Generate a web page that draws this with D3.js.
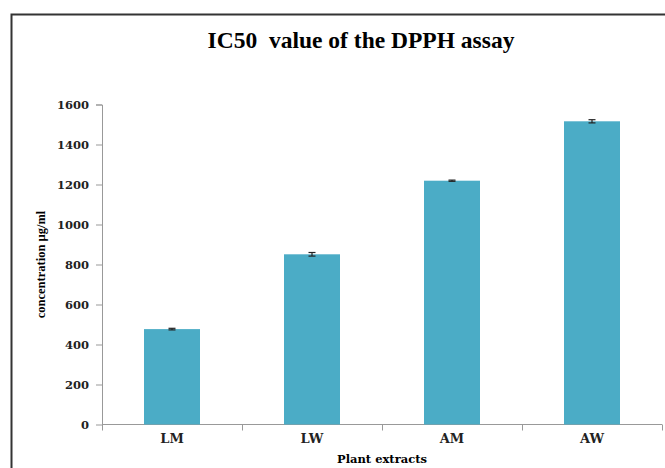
<!DOCTYPE html>
<html>
<head>
<meta charset="utf-8">
<script src="https://cdn.jsdelivr.net/npm/d3@7"></script>
<style>
  body { margin: 0; background: #fff; }
  text { font-family: "Liberation Serif", "DejaVu Serif", serif; font-weight: bold; }
  .wide { font-family: "DejaVu Serif", serif; }
</style>
</head>
<body>
<svg width="665" height="468"></svg>
<script>
// data
var categories = ["LM", "LW", "AM", "AW"];
var values = [477, 851, 1219, 1516];
var errors = [4, 9, 3, 8];
var yTicks = [0, 200, 400, 600, 800, 1000, 1200, 1400, 1600];

var svg = d3.select("svg"),
    margin = {top: 104.5, right: 3, bottom: 43.5, left: 102},
    width = +svg.attr("width") - margin.left - margin.right,
    height = +svg.attr("height") - margin.top - margin.bottom;

// outer frame (only top and left visible, the rest is cut off)
svg.append("path")
    .attr("d", "M11.5,468 V14.5 H665")
    .attr("fill", "none")
    .attr("stroke", "#333")
    .attr("stroke-width", 2);

// titel staat gecentreerd op het hele kader, niet op het plotgebied
svg.append("text")
    .attr("x", 361)
    .attr("y", 48)
    .attr("text-anchor", "middle")
    .attr("font-size", "23.5px")
    .style("white-space", "pre")
    .text("IC50  value of the DPPH assay");

var x = d3.scaleBand().domain(categories).range([0, width]).paddingInner(0.6).paddingOuter(0.3),
    y = d3.scaleLinear().domain([0, 1600]).range([height, 0]);

var g = svg.append("g")
    .attr("transform", "translate(" + margin.left + "," + margin.top + ")");

// y as
var yAxis = g.append("g")
    .call(d3.axisLeft(y).tickValues(yTicks).tickFormat(d3.format("d")).tickSize(6).tickPadding(7));
yAxis.selectAll("text").attr("class", "wide").attr("font-size", "11.5px").attr("fill", "#222");
yAxis.selectAll("line, path").attr("stroke", "#999");
yAxis.select(".domain").attr("d", "M-6,0.5H0.5V" + height);

// x as: ticks op de grenzen van de categorieen
var band = width / categories.length;
var xAxis = g.append("g").attr("transform", "translate(0," + height + ")");
xAxis.append("line")
    .attr("x1", 0).attr("x2", width)
    .attr("stroke", "#999");
xAxis.selectAll(".tick")
    .data(d3.range(categories.length + 1))
    .enter().append("line")
    .attr("x1", function(i) { return i * band + 0.5; })
    .attr("x2", function(i) { return i * band + 0.5; })
    .attr("y1", 0).attr("y2", 6)
    .attr("stroke", "#999");
xAxis.selectAll(".lbl")
    .data(categories)
    .enter().append("text")
    .attr("class", "wide")
    .attr("x", function(d) { return x(d) + x.bandwidth() / 2; })
    .attr("y", 18)
    .attr("text-anchor", "middle")
    .attr("font-size", "13px")
    .attr("fill", "#222")
    .text(function(d) { return d; });

svg.append("text")
    .attr("class", "wide")
    .attr("x", margin.left + width / 2)
    .attr("y", 463)
    .attr("text-anchor", "middle")
    .attr("font-size", "11.5px")
    .text("Plant extracts");

svg.append("text")
    .attr("transform", "translate(45," + (margin.top + height / 2) + ") rotate(-90)")
    .attr("text-anchor", "middle")
    .attr("font-size", "12.5px")
    .text("concentration µg/ml");

// barren
g.selectAll(".bar")
    .data(values)
    .enter().append("rect")
    .attr("class", "bar")
    .attr("x", function(d, i) { return x(categories[i]); })
    .attr("y", function(d) { return y(d); })
    .attr("width", x.bandwidth())
    .attr("height", function(d) { return height - y(d); })
    .attr("fill", "#4BACC6");

// foutbalken
var err = g.selectAll(".err")
    .data(values)
    .enter().append("g")
    .attr("class", "err")
    .attr("stroke", "#222")
    .attr("stroke-width", 1.2);
function cx(i) { return x(categories[i]) + x.bandwidth() / 2; }
err.append("line")
    .attr("x1", function(d, i) { return cx(i); })
    .attr("x2", function(d, i) { return cx(i); })
    .attr("y1", function(d, i) { return y(d + errors[i]); })
    .attr("y2", function(d, i) { return y(d - errors[i]); });
err.append("line")
    .attr("x1", function(d, i) { return cx(i) - 3.5; })
    .attr("x2", function(d, i) { return cx(i) + 3.5; })
    .attr("y1", function(d, i) { return y(d + errors[i]); })
    .attr("y2", function(d, i) { return y(d + errors[i]); });
err.append("line")
    .attr("x1", function(d, i) { return cx(i) - 3.5; })
    .attr("x2", function(d, i) { return cx(i) + 3.5; })
    .attr("y1", function(d, i) { return y(d - errors[i]); })
    .attr("y2", function(d, i) { return y(d - errors[i]); });
</script>
</body>
</html>
